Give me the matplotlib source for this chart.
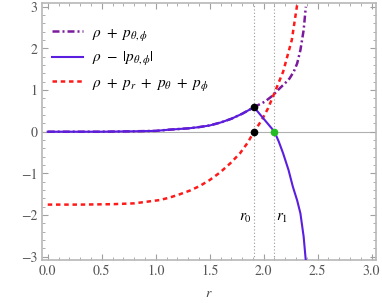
import matplotlib
matplotlib.use("Agg")
import matplotlib.pyplot as plt
from matplotlib.ticker import MultipleLocator

plt.rcParams['mathtext.fontset'] = 'stix'
plt.rcParams['font.family'] = ['STIXGeneral', 'DejaVu Serif']

# rho + p_{theta,phi}  (purple dash-dot)
r_sum = [0.0, 0.5, 0.8, 1.0, 1.13, 1.3, 1.4, 1.5, 1.6, 1.7, 1.8, 1.87, 1.91,
         2.01, 2.08, 2.14, 2.20, 2.24, 2.28, 2.31, 2.34, 2.37, 2.39]
v_sum = [0.0, 0.0, 0.01, 0.02, 0.05, 0.08, 0.11, 0.15, 0.22, 0.31, 0.43, 0.53, 0.59,
         0.72, 0.86, 1.02, 1.17, 1.28, 1.45, 1.64, 1.96, 2.44, 3.0]

# rho - |p_{theta,phi}|  (blue solid)
r_diff = [0.0, 0.5, 0.8, 1.0, 1.13, 1.3, 1.4, 1.5, 1.6, 1.7, 1.8, 1.87, 1.91,
          2.0, 2.10, 2.14, 2.18, 2.23, 2.27, 2.31, 2.34, 2.37, 2.39]
v_diff = [0.0, 0.0, 0.01, 0.02, 0.05, 0.08, 0.11, 0.15, 0.22, 0.31, 0.43, 0.53, 0.59,
          0.31, 0.0, -0.24, -0.52, -0.92, -1.32, -1.65, -1.96, -2.52, -3.1]

# rho + p_r + p_theta + p_phi  (red dashed)
r_tot = [0.0, 0.3, 0.6, 0.8, 0.95, 1.04, 1.13, 1.225, 1.32, 1.41, 1.50, 1.595,
         1.69, 1.78, 1.85, 1.91, 1.98, 2.04, 2.12, 2.18, 2.26, 2.31]
v_tot = [-1.75, -1.75, -1.74, -1.72, -1.67, -1.64, -1.58, -1.5, -1.41, -1.30, -1.16,
         -0.98, -0.76, -0.52, -0.27, 0.0, 0.27, 0.56, 1.06, 1.44, 2.2, 3.05]

r0, r1 = 1.91, 2.10
y_r0 = 0.59

labels = [r'$\rho\ +\ p_{\theta,\phi}$', r'$\rho\ -\ |p_{\theta,\phi}|$',
          r'$\rho\ +\ p_r\ +\ p_\theta\ +\ p_\phi$']
xticks = [0.0, 0.5, 1.0, 1.5, 2.0, 2.5, 3.0]
yticks = [-3, -2, -1, 0, 1, 2, 3]

fig = plt.figure(figsize=(3.82, 3.03), dpi=100)
ax = fig.add_axes([42/382, 43/303, 334/382, 257/303])

gray = '#a0a0a0'
ax.axhline(0, color='#b0b0b0', lw=0.8, zorder=1)
for rv in (r0, r1):
    ax.axvline(rv, color='#999999', lw=0.8, ls=(0, (1, 2)), zorder=1)

l1, = ax.plot(r_sum, v_sum, color='#7a1a9c', lw=1.8, dashes=(2.8, 1.2, 0.8, 1.2), zorder=2)
l2, = ax.plot(r_diff, v_diff, color='#5a1ee0', lw=1.5, zorder=3)
l3, = ax.plot(r_tot, v_tot, color='#ff1a1a', lw=1.8, dashes=(1.8, 1.5), zorder=2)

ax.plot([r0, r0], [y_r0, 0], 'o', color='black', ms=4.5, zorder=5)
ax.plot([r1], [0], 'o', color='#22bb22', ms=4.5, zorder=5)

ax.text(1.83, -2.07, r'$r_0$', ha='center', va='center', fontsize=11)
ax.text(2.17, -2.07, r'$r_1$', ha='center', va='center', fontsize=11)

ax.set_xlim(-0.053, 3.04)
ax.set_ylim(-3.08, 3.09)
ax.set_xticks(xticks)
ax.set_xticklabels([f'{t:.1f}' for t in xticks])
ax.set_yticks(yticks)
ax.set_yticklabels([str(t).replace('-', '\u2212') for t in yticks])
ax.xaxis.set_minor_locator(MultipleLocator(0.1))
ax.yaxis.set_minor_locator(MultipleLocator(0.2))
ax.tick_params(which='both', direction='in', top=True, right=True, colors=gray,
               labelcolor='#555555', labelsize=10)
ax.tick_params(which='major', length=4, width=0.8)
ax.tick_params(which='minor', length=2.2, width=0.6)
for s in ax.spines.values():
    s.set_color('#b8b8b8')
    s.set_linewidth(1.2)
ax.set_xlabel(r'$r$', fontsize=10, color='#444444', labelpad=6)

leg = ax.legend([l1, l2, l3], labels, loc='upper left', bbox_to_anchor=(0.012, 0.935),
                borderaxespad=0, borderpad=0.4,
                frameon=False, fontsize=11, handlelength=2.0, labelspacing=0.5,
                handletextpad=0.6)

fig.savefig('out.png', dpi=100)
